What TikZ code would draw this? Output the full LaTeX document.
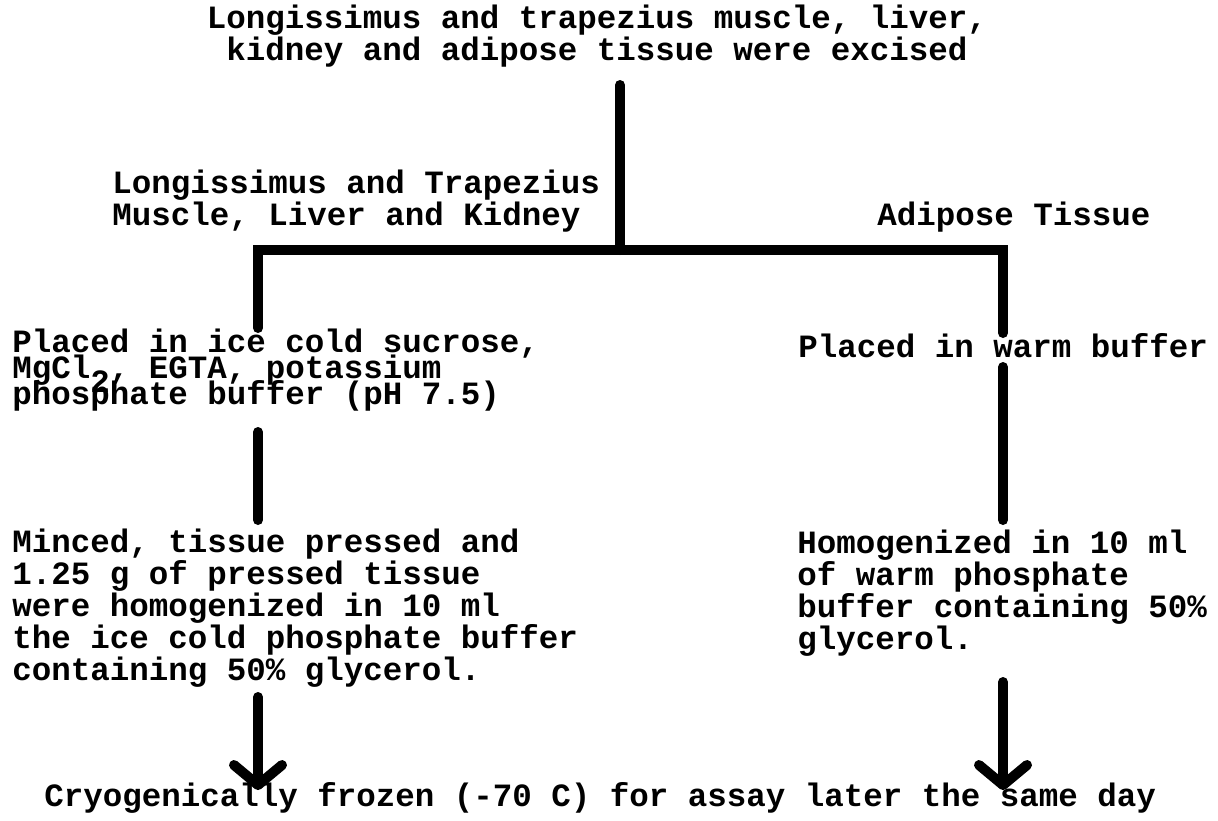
\documentclass[tikz,border=0pt]{standalone}
\usepackage{fontspec}
\setmonofont{Liberation Mono}
\usetikzlibrary{arrows.meta}
\pgfdeclarelayer{edgelayer}
\pgfdeclarelayer{nodelayer}
\pgfsetlayers{edgelayer,nodelayer,main}
\tikzset{
  txt/.style={font=\ttfamily\bfseries\fontsize{16.25}{16}\selectfont, inner sep=0pt, anchor=base west, align=left},
  flow/.style={line width=5pt, line cap=round},
  down/.style={flow, -{Straight Barb[length=10pt, width=24pt, round]}}
}
\begin{document}
\begin{tikzpicture}[x=0.5pt, y=-0.5pt]
\useasboundingbox (0,0) rectangle (1218,820);
\begin{pgfonlayer}{nodelayer}
	% base anchor = baseline of the last line
	\node[txt, anchor=base, align=center] (excised) at (597, 60) {Longissimus and trapezius muscle, liver,\\kidney and adipose tissue were excised};
	\node[txt] (organs) at (112, 225) {Longissimus and Trapezius\\Muscle, Liver and Kidney};
	\node[txt] (adipose) at (877, 225) {Adipose Tissue};
	\node[txt] (sucrose) at (12, 404) {Placed in ice cold sucrose,\\[-3pt]MgCl\raisebox{-0.45em}[0pt][0pt]{2}, EGTA, potassium\\[-3pt]phosphate buffer (pH 7.5)};
	\node[txt] (warm) at (798, 357) {Placed in warm buffer};
	\node[txt] (minced) at (12, 680) {Minced, tissue pressed and\\1.25 g of pressed tissue\\were homogenized in 10 ml\\the ice cold phosphate buffer\\containing 50\% glycerol.};
	\node[txt] (homog) at (797, 649) {Homogenized in 10 ml\\of warm phosphate\\buffer containing 50\%\\glycerol.};
	\node[txt] (frozen) at (44, 806) {Cryogenically frozen (-70 C) for assay later the same day};
\end{pgfonlayer}
\begin{pgfonlayer}{edgelayer}
	\coordinate (trunk) at (620, 85);
	\coordinate (split) at (620, 250);
	\coordinate (lcorner) at (258, 250);
	\coordinate (rcorner) at (1003, 250);
	\coordinate (l1) at (258, 328);
	\coordinate (r1) at (1003, 333);
	\coordinate (l2a) at (258, 432);
	\coordinate (l2b) at (258, 520);
	\coordinate (r2a) at (1003, 367);
	\coordinate (r2b) at (1003, 520);
	\coordinate (l3) at (258, 697);
	\coordinate (r3) at (1003, 682);
	\coordinate (ltip) at (258, 790);
	\coordinate (rtip) at (1003, 790);
	\draw[flow] (trunk) to (split);
	\draw[flow] (l1) -- (lcorner) -- (rcorner) -- (r1);
	\draw[flow] (l2a) to (l2b);
	\draw[flow] (r2a) to (r2b);
	\draw[down] (l3) to (ltip);
	\draw[down] (r3) to (rtip);
\end{pgfonlayer}
\end{tikzpicture}
\end{document}
